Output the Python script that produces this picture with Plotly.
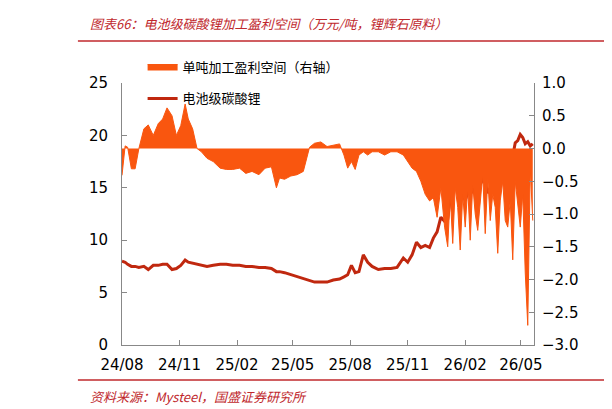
import plotly.graph_objects as go

dates = ["2024-08-01","2024-08-06","2024-08-10","2024-08-16","2024-08-22","2024-08-28","2024-09-05","2024-09-12","2024-09-20","2024-09-28",
"2024-10-05","2024-10-12","2024-10-20","2024-10-27","2024-11-03","2024-11-10","2024-11-15","2024-11-22","2024-11-29","2024-12-06",
"2024-12-15","2024-12-25","2025-01-05","2025-01-15","2025-01-25","2025-02-05","2025-02-15","2025-02-25","2025-03-08","2025-03-18",
"2025-03-28","2025-04-05","2025-04-10","2025-04-18","2025-04-28","2025-05-08","2025-05-18","2025-05-28","2025-06-05","2025-06-15",
"2025-06-25","2025-07-05","2025-07-15","2025-07-22","2025-07-28","2025-08-03","2025-08-09","2025-08-15","2025-08-22","2025-08-29",
"2025-09-05","2025-09-15","2025-09-25","2025-10-05","2025-10-15","2025-10-25","2025-11-01","2025-11-08","2025-11-15","2025-11-22",
"2025-11-29","2025-12-06","2025-12-12","2025-12-18","2025-12-24","2025-12-30","2026-01-04","2026-01-08","2026-01-12","2026-01-16",
"2026-01-20","2026-01-24","2026-01-28","2026-02-01","2026-02-05","2026-02-09","2026-02-13","2026-02-17","2026-02-21","2026-02-25",
"2026-03-01","2026-03-05","2026-03-09","2026-03-13","2026-03-17","2026-03-21","2026-03-25","2026-03-29","2026-04-02","2026-04-06",
"2026-04-10","2026-04-14","2026-04-18","2026-04-22","2026-04-26","2026-04-30","2026-05-04","2026-05-08","2026-05-12","2026-05-16",
"2026-05-20"]

lithium = [8.0,7.9,7.7,7.5,7.5,7.4,7.5,7.2,7.6,7.6,
7.7,7.7,7.2,7.3,7.6,8.1,7.9,7.8,7.7,7.6,
7.5,7.6,7.7,7.7,7.6,7.6,7.5,7.5,7.4,7.4,
7.3,7.0,7.0,6.9,6.7,6.5,6.3,6.1,6.0,6.0,
6.0,6.2,6.3,6.5,6.7,7.6,6.9,7.0,8.6,7.9,
7.5,7.2,7.3,7.3,7.4,8.3,7.9,8.6,9.8,9.3,
9.5,9.3,10.2,10.8,12.2,11.8,12.0,14.0,14.5,16.5,
15.0,16.8,14.3,13.8,14.5,14.7,14.6,17.2,15.5,15.3,
15.8,15.5,14.5,15.0,16.5,15.8,15.6,16.0,17.0,17.2,
17.5,17.8,18.0,19.3,19.5,20.1,19.8,19.2,19.4,19.0,
19.2]

profit = [-0.41,0.04,0.02,-0.31,-0.31,0.0,0.3,0.36,0.2,0.38,
0.45,0.62,0.5,0.2,0.35,0.68,0.45,0.3,0.0,-0.05,
-0.15,-0.2,-0.3,-0.32,-0.32,-0.3,-0.38,-0.35,-0.4,-0.3,
-0.28,-0.6,-0.45,-0.47,-0.42,-0.4,-0.35,0.02,0.08,0.1,
0.03,0.05,0.07,-0.1,-0.3,-0.2,-0.32,-0.1,-0.05,-0.1,
-0.05,-0.05,-0.1,-0.05,-0.05,-0.1,-0.2,-0.3,-0.35,-0.5,
-0.7,-0.8,-0.75,-1.05,-0.6,-1.2,-1.5,-0.7,-1.45,-0.6,
-0.9,-1.55,-0.7,-1.2,-0.6,-1.4,-0.55,-1.0,-1.25,-0.75,
-0.4,-1.3,-0.45,-1.1,-0.7,-0.9,-1.6,-0.8,-0.5,-1.1,
-1.2,-0.8,-1.7,-0.5,-0.9,-1.2,-0.7,-1.9,-2.7,-0.3,
-1.1]

fig = go.Figure()
fig.add_trace(go.Scatter(x=dates, y=profit, yaxis="y2", mode="lines", fill="tozeroy", legendgroup="a",
    line=dict(color="#f9560f", width=1), fillcolor="#f9560f", name="单吨加工盈利空间（右轴）"))
fig.add_trace(go.Scatter(x=dates, y=lithium, mode="lines", line=dict(color="#c0280f", width=3), legendgroup="b",
    name="电池级碳酸锂"))

font = "Noto Sans CJK SC"
tf = dict(family="DejaVu Sans", size=15)
fig.update_layout(
    width=612, height=409, margin=dict(l=114, r=86, t=75, b=72, autoexpand=False),
    paper_bgcolor="white", plot_bgcolor="white", showlegend=True,
    font=dict(family=font, size=15, color="black"),
    legend=dict(x=0.05, y=1.12, xanchor="left", yanchor="top", bgcolor="rgba(0,0,0,0)",
                font=dict(size=13), tracegroupgap=12),
    xaxis=dict(type="date", range=["2024-08-01","2026-05-22"], tickvals=["2024-08-01","2024-11-01","2025-02-01","2025-05-01","2025-08-01","2025-11-01","2026-02-01","2026-05-01"],
               ticktext=["24/08","24/11","25/02","25/05","25/08","25/11","26/02","26/05"],
               showline=True, linecolor="#888", ticks="inside", ticklen=5, tickcolor="#888", showgrid=False,
               tickfont=tf, ticklabelstandoff=6, automargin=False),
    yaxis=dict(range=[0,25], dtick=5, showline=True, linecolor="#888", ticks="inside", tickcolor="#888",
               showgrid=False, zeroline=False, tickfont=tf, ticklabelstandoff=10, automargin=False),
    yaxis2=dict(range=[-3,1], dtick=0.5, overlaying="y", side="right", showline=True, linecolor="#888",
                ticks="inside", tickcolor="#888", showgrid=False, zeroline=False, tickformat=".1f",
                tickfont=tf, ticklabelstandoff=4, automargin=False),
)
fig.add_annotation(xref="paper", yref="paper", x=-0.083, y=1.229, xanchor="left", yanchor="middle", showarrow=False,
    text="<i>图表66：电池级碳酸锂加工盈利空间（万元/吨，锂辉石原料）</i>", font=dict(size=13, color="#c0282d", family=font))
fig.add_annotation(xref="paper", yref="paper", x=-0.083, y=-0.195, xanchor="left", yanchor="middle", showarrow=False,
    text="<i>资料来源：Mysteel，国盛证券研究所</i>", font=dict(size=13, color="#c0282d", family=font))
fig.add_shape(type="line", xref="paper", yref="paper", x0=-0.107, x1=1.21, y0=1.16, y1=1.16, line=dict(color="#c0282d", width=1.5))
fig.add_shape(type="line", xref="paper", yref="paper", x0=-0.107, x1=1.21, y0=-0.134, y1=-0.134, line=dict(color="#c0282d", width=1.5))
fig.write_html("out.html")
